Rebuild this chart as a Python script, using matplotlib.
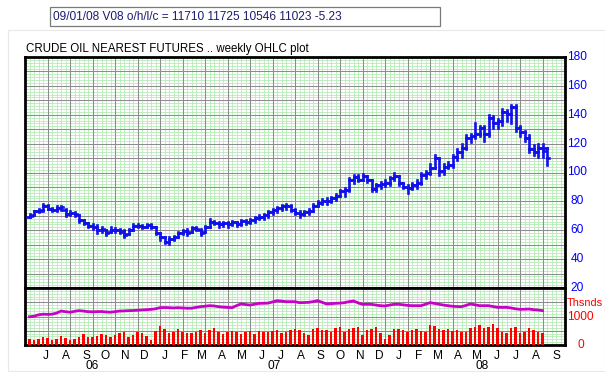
import numpy as np
import pandas as pd
import matplotlib
matplotlib.use("Agg")
import matplotlib.pyplot as plt
from matplotlib.collections import LineCollection
from matplotlib.patches import Rectangle

# ---------------- data ----------------
last_date = "2008-09-01"
n_weeks = 116
header = "09/01/08 V08 o/h/l/c = 11710 11725 10546 11023 -5.23"
title = "CRUDE OIL NEAREST FUTURES .. weekly OHLC plot"

opens = [69.5, 70.5, 73, 74, 76.5, 75, 74, 75.5, 74, 71,
         72, 70.5, 67, 65, 63, 62.5, 60, 60.5, 58.5, 60,
         60.5, 59.5, 57.5, 60.5, 63, 63, 62.5, 63.5, 62, 58,
         55, 52, 54, 55.5, 58, 59.5, 58.5, 61.5, 60.5, 58.5,
         62, 66, 65, 64, 65, 64, 65.5, 64, 66.5, 65.5,
         67, 68.5, 69.5, 70.5, 72.5, 74, 75.5, 76.5, 77, 74,
         72, 71, 72.5, 73.5, 77, 79, 80, 80.5, 82, 84,
         87, 88, 95, 97, 95, 97.5, 95, 88.5, 91, 92,
         93, 96, 97.5, 93, 90, 89, 91, 93, 98, 100,
         103, 110, 101, 104, 105, 110.5, 114, 117, 124, 125,
         127, 131, 127, 138, 134, 135.5, 142, 140.5, 145.5, 131,
         128, 124, 116, 114, 117, 117.10]
highs = [71, 73.5, 74.5, 78, 77.5, 75.5, 76.5, 77, 74.5, 73,
         72.5, 70.5, 67, 65, 64, 63.5, 62, 60.5, 62, 61.5,
         61, 60, 61, 64, 64, 63.5, 64, 64, 62.5, 58,
         55, 55, 56, 58.5, 60, 61, 62, 62, 61, 63,
         68, 66.5, 66, 66, 66, 66.5, 66, 67, 67, 68,
         69, 70.5, 71, 73, 75, 76, 77.5, 78.5, 77.5, 75,
         73, 73.5, 74.5, 78, 80, 81.5, 82, 83, 85, 88,
         89, 96, 98, 98.5, 99, 97.5, 95, 92, 93.5, 94.5,
         97, 99.5, 97.5, 93, 91.5, 92.5, 95, 100, 101, 106,
         112, 110, 106, 107, 112, 116.5, 120, 126, 126.5, 134,
         132, 132, 140, 139, 137, 144, 143, 147, 146.5, 132,
         129, 126, 119, 120, 120, 117.25]
lows = [69, 70.5, 72.5, 73.5, 74.5, 73, 73.5, 74, 70, 70.5,
        70, 66, 64.5, 62, 61, 58, 59, 56.5, 58.5, 59,
        58, 55.5, 57.5, 60.5, 62, 61.5, 62.5, 61.5, 57.5, 53.5,
        51, 50.5, 53, 55, 57.5, 57, 58.5, 60, 56.5, 58.5,
        62, 64, 62.5, 63, 62.5, 63.5, 63, 63.5, 64.5, 65,
        66, 67.5, 68, 69.5, 71.5, 72.5, 74, 75, 73, 71,
        69.5, 70.5, 71, 73, 76.5, 78, 78.5, 79.5, 81, 83.5,
        84, 87.5, 93, 94, 94.5, 93.5, 87, 87.5, 89.5, 90.5,
        91, 94.5, 91.5, 89, 86, 88.5, 89.5, 92, 96, 99,
        103, 98, 99, 103, 104, 109, 110.5, 116, 121, 124,
        125.5, 122, 125, 131, 131, 133, 136, 134.5, 129, 125.5,
        122, 114, 112, 111, 111, 105.46]
closes = [70, 73, 73.5, 76.5, 75, 74, 75.5, 76, 71, 72,
          71, 67, 65, 63, 62, 60, 61, 58, 60.5, 60,
          59, 57, 60, 63, 63, 62.5, 63.5, 62, 58, 55,
          52, 54, 55.5, 58, 59.5, 58, 61.5, 61, 58, 62,
          66, 65, 64, 65, 64, 65.5, 64, 66.5, 65.5, 67,
          68.5, 69.5, 70.5, 72.5, 74, 75.5, 76.5, 77, 74, 72,
          71, 72.5, 73.5, 77, 79, 80, 80.5, 82, 84, 87,
          88, 95, 97, 95, 97.5, 95, 88.5, 91, 92, 93,
          96, 97.5, 93, 90, 89, 91, 93, 98, 100, 103,
          110, 101, 104, 105, 110.5, 114, 117, 124, 125, 127,
          131, 127, 138, 134, 135.5, 142, 140.5, 145.5, 131, 128,
          124, 116, 114, 117, 115, 110.23]

volume = [210, 175, 210, 280, 245, 175, 210, 315, 245, 175,
          200, 270, 385, 290, 290, 315, 385, 350, 290, 350,
          430, 470, 270, 350, 470, 410, 315, 175, 500, 680,
          560, 410, 470, 560, 470, 410, 410, 470, 530, 410,
          530, 610, 470, 375, 445, 500, 470, 385, 445, 500,
          385, 500, 470, 470, 500, 530, 430, 470, 530, 550,
          530, 410, 350, 550, 585, 530, 530, 470, 585, 640,
          470, 550, 585, 645, 350, 530, 550, 620, 410, 200,
          350, 550, 550, 530, 470, 530, 560, 500, 470, 700,
          680, 550, 530, 560, 500, 530, 470, 470, 610, 645,
          700, 610, 645, 725, 585, 470, 410, 585, 645, 430,
          470, 585, 530, 470, 430]
open_interest = [990, 1010, 1060, 1080, 1075, 1080, 1120, 1190, 1170, 1150,
                 1180, 1205, 1190, 1170, 1165, 1170, 1175, 1160, 1150, 1170,
                 1190, 1195, 1205, 1210, 1220, 1230, 1240, 1250, 1270, 1310,
                 1315, 1310, 1300, 1310, 1300, 1290, 1290, 1320, 1345, 1360,
                 1380, 1370, 1345, 1330, 1320, 1310, 1380, 1440, 1420, 1400,
                 1430, 1460, 1465, 1470, 1510, 1556, 1540, 1520, 1520, 1520,
                 1486, 1490, 1497, 1520, 1556, 1500, 1440, 1450, 1462, 1470,
                 1486, 1520, 1544, 1480, 1427, 1430, 1427, 1400, 1380, 1370,
                 1400, 1427, 1430, 1410, 1390, 1380, 1380, 1380, 1430, 1486,
                 1460, 1430, 1400, 1380, 1360, 1350, 1345, 1390, 1440, 1410,
                 1380, 1380, 1380, 1350, 1322, 1320, 1322, 1300, 1270, 1252,
                 1255, 1264, 1240, 1228, 1205]

month_letters = ["J", "A", "S", "O", "N", "D", "J", "F", "M", "A", "M", "J",
                 "J", "A", "S", "O", "N", "D", "J", "F", "M", "A", "M", "J",
                 "J", "A", "S"]
first_month = "2006-07-01"
year_labels = ["06", "07", "08"]
year_label_dates = ["2006-09-25", "2007-07-05", "2008-05-23"]
price_ticks = [20, 40, 60, 80, 100, 120, 140, 160, 180]

# ---------------- scale helpers ----------------
dates = pd.date_range(end=last_date, periods=n_weeks, freq="7D")
origin = dates[0] - pd.Timedelta(days=7)


def wk(d):
    return (pd.Timestamp(d) - origin).days / 7.0


x = np.array([wk(d) for d in dates])
xv = x[:len(volume)]

# ---------------- figure ----------------
W, H = 605, 372
fig = plt.figure(figsize=(W / 100, H / 100), dpi=100)
fig.patch.set_facecolor("white")


def fx(px):
    return px / W


def fy(py):
    return 1 - py / H


# faint outer panel
fig.patches.append(Rectangle((fx(8), fy(371)), fx(597), (341) / H,
                             transform=fig.transFigure, fill=False,
                             edgecolor="#e8e8e8", lw=0.8))
# header box
fig.patches.append(Rectangle((fx(50), fy(26)), fx(390), 19 / H,
                             transform=fig.transFigure, facecolor="white",
                             edgecolor="#7a7a7a", lw=0.9))
FONT = "Liberation Sans"
fig.text(fx(53), fy(16.5), header, fontsize=8.6, color="#1c1c70",
         family=FONT, va="center", ha="left")
fig.text(fx(26), fy(49), title, fontsize=8.3, color="black",
         family=FONT, va="center", ha="left")

L, R, T, MID, B = 25, 565, 57, 288, 345
axp = fig.add_axes([fx(L), fy(MID), (R - L) / W, (MID - T) / H])
axv = fig.add_axes([fx(L), fy(B), (R - L) / W, (B - MID) / H])

GREEN = "#b8eab8"
GRAY = "#8c8c8c"
xmax = 120

for ax, ymin, ymax, minor, major in [(axp, 20, 180, 2, 10),
                                     (axv, 0, 2000, 100, 500)]:
    ax.set_xlim(0, xmax)
    ax.set_ylim(ymin, ymax)
    for xx in np.arange(0, xmax + 1, 1):
        ax.axvline(xx, color=GREEN, lw=0.6, zorder=0)
    for yy in np.arange(ymin, ymax + 0.01, minor):
        ax.axhline(yy, color=GREEN, lw=0.6, zorder=0)
    for xx in np.arange(5, xmax, 5):
        ax.axvline(xx, color=GRAY, lw=0.75, zorder=1)
    for yy in np.arange(ymin + major, ymax, major):
        ax.axhline(yy, color=GRAY, lw=0.75, zorder=1)
    ax.set_xticks([])
    ax.set_yticks([])
    for s in ax.spines.values():
        s.set_linewidth(2.0)
        s.set_color("black")

# OHLC bars
BLUE = "#1010e8"
segs = []
for xi, o, h, l, c in zip(x, opens, highs, lows, closes):
    segs.append([(xi, l), (xi, h)])
    segs.append([(xi - 0.5, o), (xi, o)])
    segs.append([(xi, c), (xi + 0.5, c)])
axp.add_collection(LineCollection(segs, colors=BLUE, linewidths=1.9,
                                  capstyle="projecting", zorder=3))

# volume + open interest
axv.bar(xv, volume, width=0.5, color="#ff0000", zorder=3)
axv.plot(xv, open_interest, color="#c800c8", lw=2.0, zorder=4,
         solid_joinstyle="miter")

# right labels
for p in price_ticks:
    ypix = T + (180 - p) * (MID - T) / 160
    fig.text(fx(577), fy(ypix), str(p), fontsize=8.6, color="#0000ff",
             family=FONT, ha="center", va="center")
fig.text(fx(567), fy(303), "Thsnds", fontsize=7.9, color="#ff0000",
         family=FONT, ha="left", va="center")
for v in [1000, 0]:
    ypix = B - v * (B - MID) / 2000
    fig.text(fx(580.5), fy(ypix), str(v), fontsize=8.6, color="#ff0000",
             family=FONT, ha="center", va="center")

# month + year labels
mdates_ = pd.date_range(start=first_month, periods=len(month_letters),
                        freq="MS") + pd.Timedelta(days=14)
for lab, d in zip(month_letters, mdates_):
    axv.text(wk(d), -0.19, lab, transform=axv.get_xaxis_transform(),
             fontsize=8.6, family=FONT, ha="center", va="center")
for lab, d in zip(year_labels, year_label_dates):
    axv.text(wk(d), -0.37, lab, transform=axv.get_xaxis_transform(),
             fontsize=8.6, family=FONT, ha="center", va="center")

fig.savefig("out.png", dpi=100)
